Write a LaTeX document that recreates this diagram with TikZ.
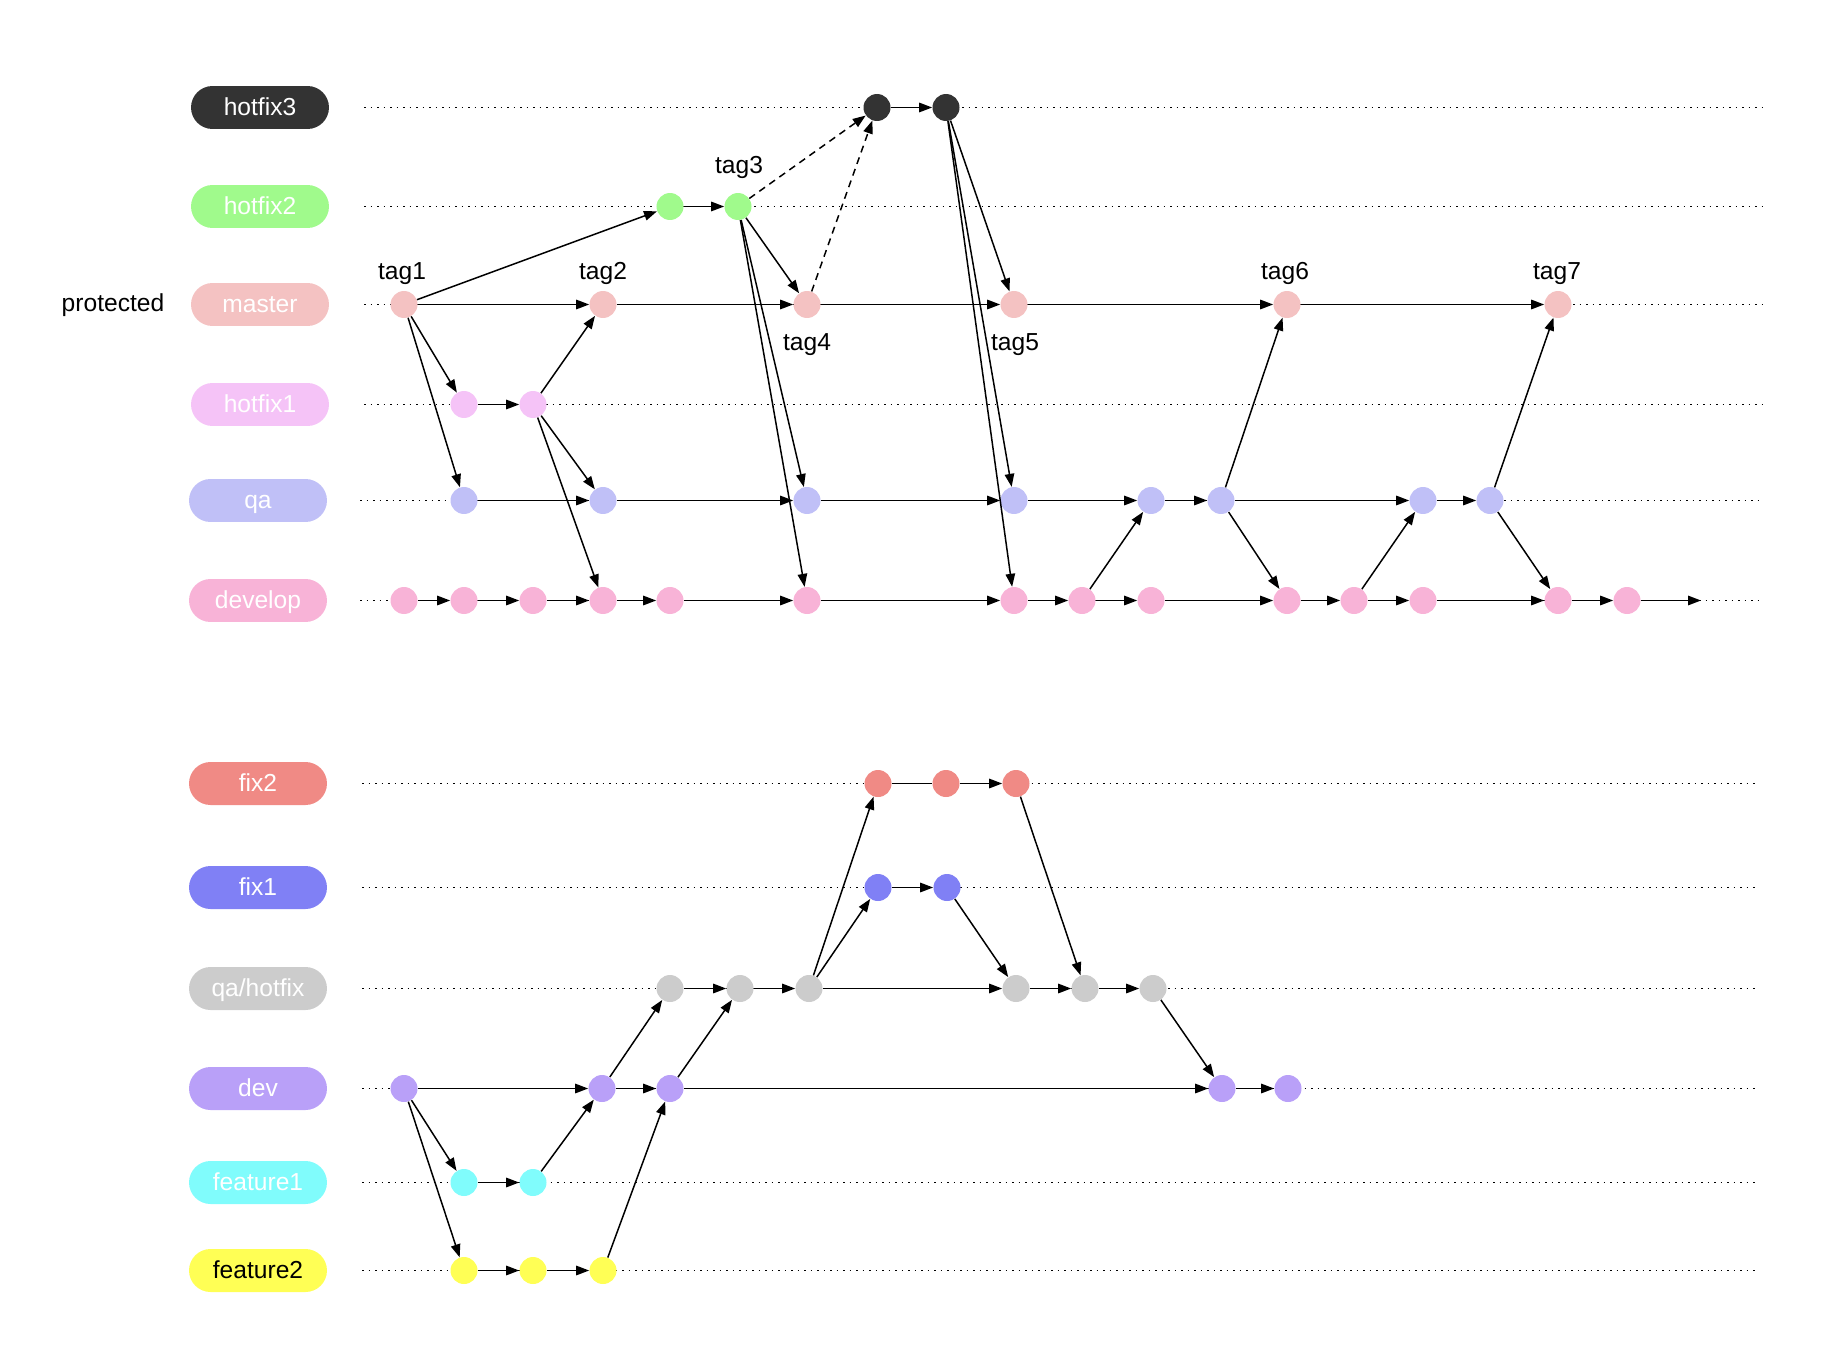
\documentclass[tikz,border=0pt]{standalone}
\usepackage{fontspec}
\setmainfont{Liberation Sans}
\usepackage{tikz}
\usetikzlibrary{arrows.meta, positioning}
\definecolor{hfthree}{RGB}{51,51,51}
\definecolor{hftwo}{RGB}{160,250,140}
\definecolor{mstr}{RGB}{244,194,194}
\definecolor{hfone}{RGB}{245,195,247}
\definecolor{qacol}{RGB}{192,192,247}
\definecolor{devcol}{RGB}{248,179,215}
\definecolor{fixtwo}{RGB}{240,138,133}
\definecolor{fixone}{RGB}{128,128,245}
\definecolor{qahfcol}{RGB}{204,204,204}
\definecolor{dvcol}{RGB}{185,160,248}
\definecolor{featone}{RGB}{128,252,252}
\definecolor{feattwo}{RGB}{255,255,85}
\tikzset{
  branch/.style={rectangle,rounded corners=0.43cm,minimum width=2.76cm,minimum height=0.86cm,
    inner sep=0pt,text=white,font=\fontsize{14}{16}\selectfont,text height=9.6pt,text depth=0.4pt},
  commit/.style={circle,minimum size=0.54cm,inner sep=0pt},
  tagtxt/.style={font=\fontsize{14}{16}\selectfont,inner sep=0pt},
  lane/.style={line width=0.85pt,dash pattern=on 1pt off 2.7pt},
  arrow/.style={-{Triangle[length=7.4pt,width=5.4pt]},line width=0.85pt},
  dasharrow/.style={arrow,dash pattern=on 4pt off 3pt},
  link/.style={line width=0.85pt}
}

\begin{document}
\begin{tikzpicture}[x=0.02cm,y=-0.02cm]
  \useasboundingbox (0,-1.5) rectangle (1842,1366.5);

  % ── Lanes ─────────────────────────────────────────────────────────────────
  \foreach \y/\xa/\xb in {106/364/1762, 205/364/1762, 303/364/1762, 403/364/1762,
      499/360/1759, 599/360/1759, 782/362/1759, 886/362/1759, 987/362/1759,
      1087/362/1759, 1181/362/1759, 1269/362/1759}
    \draw[lane] (\xa,\y) -- (\xb,\y);

  % ── Branch labels (release flow) ──────────────────────────────────────────
  \node[branch,fill=hfthree] (lh3) at (260,106) {hotfix3};
  \node[branch,fill=hftwo] (lh2) at (260,205) {hotfix2};
  \node[branch,fill=mstr] (lm) at (260,303) {master};
  \node[branch,fill=hfone] (lh1) at (260,403) {hotfix1};
  \node[branch,fill=qacol] (lqa) at (258,499) {qa};
  \node[branch,fill=devcol] (ldev) at (258,599) {develop};
  \node[tagtxt] (prot) at (113,304) {protected};

  % ── Commits ───────────────────────────────────────────────────────────────
  \node[commit,fill=mstr] (m1) at (404,303) {};
  \node[commit,fill=mstr] (m2) at (603,303) {};
  \node[commit,fill=mstr] (m3) at (807,303) {};
  \node[commit,fill=mstr] (m4) at (1014,303) {};
  \node[commit,fill=mstr] (m5) at (1287,303) {};
  \node[commit,fill=mstr] (m6) at (1558,303) {};
  \node[commit,fill=hftwo] (h2a) at (670,205) {};
  \node[commit,fill=hftwo] (h2b) at (738,205) {};
  \node[commit,fill=hfthree] (h3a) at (877,106) {};
  \node[commit,fill=hfthree] (h3b) at (946,106) {};
  \node[commit,fill=hfone] (h1a) at (464,403) {};
  \node[commit,fill=hfone] (h1b) at (533,403) {};
  \foreach \n/\x in {q1/464, q2/603, q3/807, q4/1014, q5/1151, q6/1221, q7/1423, q8/1490}
    \node[commit,fill=qacol] (\n) at (\x,499) {};
  \foreach \n/\x in {d1/404, d2/464, d3/533, d4/603, d5/670, d6/807, d7/1014, d8/1082,
      d9/1151, d10/1287, d11/1354, d12/1423, d13/1558, d14/1627}
    \node[commit,fill=devcol] (\n) at (\x,599) {};
  \coordinate (dend) at (1701,599);

  % ── Tags ──────────────────────────────────────────────────────────────────
  \node[tagtxt] (t1) at (402,272) {tag1};
  \node[tagtxt] (t2) at (603,272) {tag2};
  \node[tagtxt] (t3) at (739,166) {tag3};
  \node[tagtxt] (t4) at (807,343) {tag4};
  \node[tagtxt] (t5) at (1015,343) {tag5};
  \node[tagtxt] (t6) at (1285,272) {tag6};
  \node[tagtxt] (t7) at (1557,272) {tag7};

  % ── History along each branch ────────────────────────────────────────────
  \foreach \a/\b in {m1/m2, m2/m3, m3/m4, m4/m5, m5/m6, h2a/h2b, h3a/h3b, h1a/h1b,
      q1/q2, q2/q3, q3/q4, q4/q5, q5/q6, q6/q7, q7/q8,
      d1/d2, d2/d3, d3/d4, d4/d5, d5/d6, d6/d7, d7/d8, d8/d9, d9/d10, d10/d11,
      d11/d12, d12/d13, d13/d14, d14/dend}
    \draw[arrow] (\a) -- (\b);

  % ── Branching and merging ────────────────────────────────────────────────
  \foreach \a/\b in {m1/h2a, m1/h1a, m1/q1, h1b/m2, h1b/q2, h1b/d4,
      h2b/m3, h2b/q3, h2b/d6, h3b/m4, h3b/q4, h3b/d7,
      d8/q5, q6/m5, q6/d10, d11/q7, q8/m6, q8/d13}
    \draw[arrow] (\a) -- (\b);
  \draw[dasharrow] (h2b) -- (h3a);
  \draw[dasharrow] (m3) -- (h3a);

  % ── Branch labels (feature flow) ──────────────────────────────────────────
  \node[branch,fill=fixtwo] (lf2) at (258,782) {fix2};
  \node[branch,fill=fixone] (lf1) at (258,886) {fix1};
  \node[branch,fill=qahfcol] (lqh) at (258,987) {qa/hotfix};
  \node[branch,fill=dvcol] (ldv) at (258,1087) {dev};
  \node[branch,fill=featone] (lfe1) at (258,1181) {feature1};
  \node[branch,fill=feattwo,text=black] (lfe2) at (258,1269) {feature2};

  \foreach \n/\x in {x1/878, x2/946, x3/1016}
    \node[commit,fill=fixtwo] (\n) at (\x,782) {};
  \foreach \n/\x in {y1/878, y2/947}
    \node[commit,fill=fixone] (\n) at (\x,886) {};
  \foreach \n/\x in {k1/670, k2/740, k3/809, k4/1016, k5/1085, k6/1153}
    \node[commit,fill=qahfcol] (\n) at (\x,987) {};
  \foreach \n/\x in {v1/404, v2/602, v3/670, v4/1222, v5/1288}
    \node[commit,fill=dvcol] (\n) at (\x,1087) {};
  \foreach \n/\x in {e1/464, e2/533}
    \node[commit,fill=featone] (\n) at (\x,1181) {};
  \foreach \n/\x in {g1/464, g2/533, g3/603}
    \node[commit,fill=feattwo] (\n) at (\x,1269) {};

  \draw[link] (x1) -- (x2);
  \foreach \a/\b in {x2/x3, y1/y2, k1/k2, k2/k3, k3/k4, k4/k5, k5/k6,
      v1/v2, v2/v3, v3/v4, v4/v5, e1/e2, g1/g2, g2/g3,
      v1/e1, v1/g1, e2/v2, g3/v3, v2/k1, v3/k2, k3/x1, k3/y1, y2/k4, x3/k5, k6/v4}
    \draw[arrow] (\a) -- (\b);
\end{tikzpicture}
\end{document}
